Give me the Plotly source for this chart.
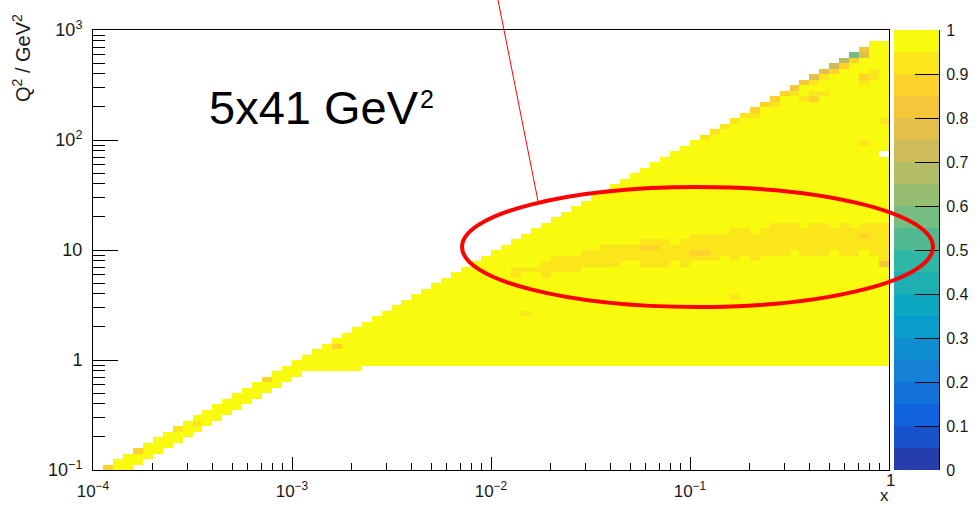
import numpy as np
import plotly.graph_objects as go

# ---- binning: 20 logarithmic bins per decade on both axes ----
x_edges = np.logspace(-4, 0, 81)      # Bjorken x, 1e-4 .. 1
q2_edges = np.logspace(-1, 3, 81)     # Q^2 / GeV^2, 0.1 .. 1000

# ---- populated Q^2 bin range in every x column (-1 = empty column) ----
col_top = [-1, 0, 1, 2, 3, 4, 5, 6, 7, 8, 9, 10, 11, 12, 13, 14, 15, 16, 17, 18,
           19, 20, 21, 22, 23, 24, 25, 26, 27, 28, 29, 30, 31, 32, 33, 34, 35, 36, 37, 38,
           39, 40, 41, 42, 43, 44, 45, 46, 47, 48, 49, 50, 51, 52, 53, 54, 55, 56, 57, 58,
           59, 60, 61, 62, 63, 64, 65, 66, 67, 68, 69, 70, 71, 72, 73, 74, 75, 76, 77, 77]
col_bottom = [-1, 0, 0, 0, 1, 2, 3, 4, 5, 6, 7, 8, 9, 10, 11, 12, 13, 14, 15, 16,
              17, 18, 18, 18, 18, 18, 18, 19, 19, 19, 19, 19, 19, 19, 19, 19, 19, 19, 19, 19,
              19, 19, 19, 19, 19, 19, 19, 19, 19, 19, 19, 19, 19, 19, 19, 19, 19, 19, 19, 19,
              19, 19, 19, 19, 19, 19, 19, 19, 19, 19, 19, 19, 19, 19, 19, 19, 19, 19, 19, 19]
full_level = 0.98   # purity of the bulk of the populated bins

# ---- slightly lower purity band around Q^2 ~ 10 GeV^2 (x bins 42..79) ----
band_first_col = 42
band_lo = [35, 35, 36, 35, 36, 36, 36, 37, 37, 37, 37, 37, 38, 37, 37, 37, 38, 37, 38, 38,
           38, 38, 38, 39, 38, 39, 39, 39, 39, 39, 39, 39, 40, 39, 39, 40, 39, 38]
band_hi = [36, 36, 36, 37, 38, 38, 38, 39, 39, 40, 40, 40, 40, 41, 41, 41, 41, 41, 42, 42,
           42, 42, 43, 43, 43, 43, 44, 44, 44, 43, 44, 44, 44, 44, 43, 44, 44, 44]
band_level = 0.93
band_holes_x = [43, 50, 53, 58, 63, 66, 70, 74]
band_holes_q = [35, 40, 37, 41, 38, 43, 39, 44]

# ---- individual bins (x bin, Q^2 bin, purity) ----
bin_x = [61, 62, 63, 64, 65, 66, 67, 68, 69, 70, 71, 72, 73, 74, 75, 76, 77,
         66, 68, 70, 72, 73, 74, 75, 76, 77,
         71, 72, 72, 73, 77, 77, 78, 78, 77, 79, 79, 77, 55, 56, 60, 61, 43, 64,
         1, 4, 8, 10, 17, 24]
bin_q = [60, 61, 62, 63, 64, 65, 66, 67, 68, 69, 70, 71, 72, 73, 74, 75, 76,
         64, 66, 68, 70, 71, 72, 73, 74, 75,
         67, 67, 68, 68, 70, 71, 71, 72, 59, 63, 37, 42, 40, 40, 39, 39, 28, 31,
         0, 3, 7, 8, 16, 22]
bin_val = [0.93, 0.93, 0.92, 0.91, 0.90, 0.88, 0.87, 0.86, 0.85, 0.80, 0.82, 0.77, 0.75, 0.70, 0.68, 0.56, 0.84,
           0.93, 0.92, 0.92, 0.90, 0.90, 0.88, 0.87, 0.87, 0.78,
           0.90, 0.88, 0.90, 0.92, 0.90, 0.88, 0.90, 0.92, 0.92, 0.90, 0.82, 0.88, 0.88, 0.88, 0.88, 0.88, 0.93, 0.93,
           0.87, 0.87, 0.92, 0.93, 0.88, 0.88]
empty_x = [79]
empty_q = [57]

# ---- fill the histogram ----
nx, nq = len(x_edges) - 1, len(q2_edges) - 1
z = np.full((nq, nx), np.nan)
for i in range(nx):
    if col_top[i] >= 0:
        z[col_bottom[i]:col_top[i] + 1, i] = full_level
for k, (q0, q1) in enumerate(zip(band_lo, band_hi)):
    z[q0:q1 + 1, band_first_col + k] = band_level
for i, j in zip(band_holes_x, band_holes_q):
    z[j, i] = full_level
for i, j, v in zip(bin_x, bin_q, bin_val):
    z[j, i] = v
for i, j in zip(empty_x, empty_q):
    z[j, i] = np.nan

# ---- ROOT "bird" palette, 20 discrete contour levels ----
stops = [0.0, 0.125, 0.25, 0.375, 0.5, 0.625, 0.75, 0.875, 1.0]
red = [0.2082, 0.0592, 0.0780, 0.0232, 0.1802, 0.5301, 0.8186, 0.9956, 0.9764]
green = [0.1664, 0.3599, 0.5041, 0.6419, 0.7178, 0.7492, 0.7328, 0.7862, 0.9832]
blue = [0.5293, 0.8684, 0.8385, 0.7914, 0.6425, 0.4662, 0.3499, 0.1968, 0.0539]
n_contours = 20


def bird(f):
    r = np.interp(f, stops, red)
    g = np.interp(f, stops, green)
    b = np.interp(f, stops, blue)
    return "rgb(%d,%d,%d)" % (round(r * 255), round(g * 255), round(b * 255))


colorscale = []
for k in range(n_contours):
    col = bird(min((k + 0.99) / n_contours, 1.0))
    colorscale.append([k / n_contours, col])
    colorscale.append([(k + 1) / n_contours, col])

# ---- page geometry (pixels) ----
W, H = 979, 505
L, R, T, B = 93, 939, 30, 470      # paper box: plot frame + palette


def px(x):
    return (x - L) / (R - L)


def py(y):
    return (B - y) / (B - T)


FONT = "Liberation Sans, Arial, sans-serif"
TXT = "#1a1a1a"

fig = go.Figure()

fig.add_trace(go.Heatmap(
    x=x_edges, y=q2_edges, z=z, zmin=0, zmax=1,
    colorscale=colorscale, showscale=False, hoverongaps=False,
    xaxis="x", yaxis="y",
))

# palette drawn as its own small heatmap
pal_edges = np.linspace(0, 1, n_contours + 1)
pal_z = [[(k + 0.5) / n_contours] for k in range(n_contours)]
fig.add_trace(go.Heatmap(
    x=[0, 1], y=pal_edges, z=pal_z, zmin=0, zmax=1,
    colorscale=colorscale, showscale=False, hoverinfo="skip",
    xaxis="x2", yaxis="y2",
))

x_major = [1e-4, 1e-3, 1e-2, 1e-1, 1]
x_labels = ["10<sup>−4</sup>", "10<sup>−3</sup>", "10<sup>−2</sup>", "10<sup>−1</sup>", ""]
y_major = [0.1, 1, 10, 100, 1000]
y_labels = ["10<sup>−1</sup>", "1", "10", "10<sup>2</sup>", "10<sup>3</sup>"]
x_minor = [m * 10.0 ** e for e in range(-4, 0) for m in range(2, 10)]
y_minor = [m * 10.0 ** e for e in range(-1, 3) for m in range(2, 10)]

fig.update_layout(
    template="none",
    width=W, height=H,
    margin=dict(l=L, r=W - R, t=T, b=H - B, autoexpand=False),
    paper_bgcolor="white", plot_bgcolor="white",
    showlegend=False,
    font=dict(family=FONT, color=TXT),
    xaxis=dict(
        type="log", range=[-4, 0], domain=[0, px(889)], automargin=False,
        showgrid=False, zeroline=False,
        showline=True, linecolor="black", linewidth=1, mirror=True,
        ticks="inside", ticklen=13, tickwidth=1, tickcolor="black",
        tickmode="array", tickvals=x_major, ticktext=x_labels,
        tickfont=dict(size=17, family=FONT, color=TXT), ticklabelstandoff=6,
        minor=dict(ticks="inside", ticklen=7, tickwidth=1, tickcolor="black",
                   tickmode="array", tickvals=x_minor, showgrid=False),
    ),
    yaxis=dict(
        type="log", range=[-1, 3], domain=[0, 1], automargin=False,
        showgrid=False, zeroline=False,
        showline=True, linecolor="black", linewidth=1, mirror=True,
        ticks="inside", ticklen=25, tickwidth=1, tickcolor="black",
        tickmode="array", tickvals=y_major, ticktext=y_labels,
        tickfont=dict(size=18, family=FONT, color=TXT), ticklabelstandoff=6,
        minor=dict(ticks="inside", ticklen=12, tickwidth=1, tickcolor="black",
                   tickmode="array", tickvals=y_minor, showgrid=False),
    ),
    xaxis2=dict(
        domain=[px(894), 1], range=[0, 1], anchor="y2", automargin=False,
        visible=False, fixedrange=True,
    ),
    yaxis2=dict(
        domain=[0, 1], range=[0, 1], anchor="x2", side="right", automargin=False,
        showgrid=False, zeroline=False,
        showline=True, linecolor="black", linewidth=1,
        ticks="inside", ticklen=24, tickwidth=1.2, tickcolor="black",
        tickmode="array", tickvals=[k / 10 for k in range(11)],
        ticktext=["0", "0.1", "0.2", "0.3", "0.4", "0.5", "0.6", "0.7", "0.8", "0.9", "1"],
        tickfont=dict(size=16, family=FONT, color=TXT), ticklabelstandoff=3,
        fixedrange=True,
    ),
)

# label of the last x decade sits a little higher, above the axis title
fig.add_annotation(
    text="1", xref="paper", yref="paper",
    x=px(890), y=py(481), xanchor="center", yanchor="middle",
    showarrow=False, font=dict(size=17, family=FONT, color=TXT),
)
fig.add_annotation(
    text="x", xref="paper", yref="paper",
    x=px(884), y=py(495), xanchor="center", yanchor="middle",
    showarrow=False, font=dict(size=17, family=FONT, color=TXT),
)
fig.add_annotation(
    text="Q<sup>2</sup> / GeV<sup>2</sup>", xref="paper", yref="paper",
    x=px(22), y=py(58), xanchor="center", yanchor="middle", textangle=-90,
    showarrow=False, font=dict(size=20, family=FONT, color=TXT),
)
fig.add_annotation(
    text="5x41 GeV", xref="paper", yref="paper",
    x=px(314), y=py(108), xanchor="center", yanchor="middle",
    showarrow=False, font=dict(size=47, family=FONT, color="black"),
)
fig.add_annotation(
    text="2", xref="paper", yref="paper",
    x=px(427), y=py(99), xanchor="center", yanchor="middle",
    showarrow=False, font=dict(size=25, family=FONT, color="black"),
)

fig.add_shape(type="line", xref="paper", yref="paper",
              x0=px(498), y0=py(0), x1=px(538), y1=py(201),
              line=dict(color="red", width=1), layer="above")
fig.add_shape(type="circle", xref="paper", yref="paper",
              x0=px(462), x1=px(933), y0=py(307), y1=py(187),
              line=dict(color="red", width=4), layer="above")

fig.write_html("out.html")
